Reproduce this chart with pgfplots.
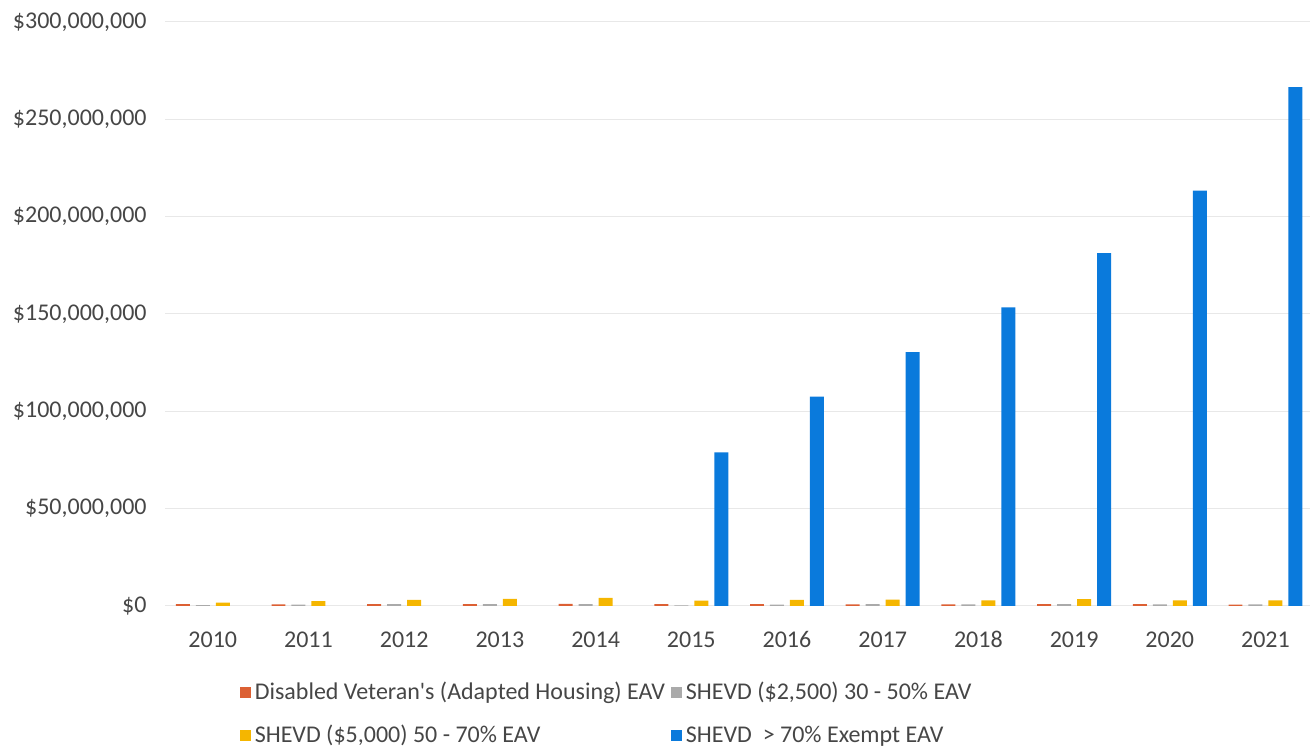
\documentclass[border=0pt]{standalone}
\usepackage{pgfplots}
\pgfplotsset{compat=1.18}
\usepackage{fontspec}
\setmainfont{Carlito}
\definecolor{cOrange}{RGB}{220,96,52}
\definecolor{cGray}{RGB}{170,170,170}
\definecolor{cYellow}{RGB}{245,182,0}
\definecolor{cBlue}{RGB}{10,122,220}
\definecolor{cText}{RGB}{70,70,70}
\definecolor{cGrid}{RGB}{232,232,232}
\begin{document}
\fontsize{12}{14}\selectfont
\begin{tikzpicture}
\begin{axis}[
  scale only axis,
  width=572.5pt, height=292pt,
  xmin=-0.5, xmax=11.46,
  ymin=0, ymax=300,
  ybar=3pt, bar width=7pt,
  axis line style={draw=none},
  axis x line*=bottom,
  tick style={draw=none},
  xtick={0,...,11},
  xticklabels={2010,2011,2012,2013,2014,2015,2016,2017,2018,2019,2020,2021},
  ytick={0,50,100,150,200,250,300},
  yticklabels={{\$0},{\$50,000,000},{\$100,000,000},{\$150,000,000},{\$200,000,000},{\$250,000,000},{\$300,000,000}},
  ymajorgrids, grid style={cGrid, line width=0.5pt},
  ticklabel style={font=\fontsize{12}{14}\selectfont, text=cText},
  yticklabel style={xshift=-5pt},
  xticklabel style={yshift=-4pt, text height=8.5pt, text depth=0pt},
  legend columns=2,
  legend style={draw=none, fill=none, at={(0.06,0)}, anchor=north west, yshift=-34pt,
    font=\fontsize{12}{14}\selectfont, text=cText, row sep=7pt,
    /tikz/every even column/.append style={column sep=1pt}},
  legend image code/.code={\fill[#1] (0pt,-2.6pt) rectangle (5.4pt,2.8pt);},
  legend cell align=left,
  clip=false,
]
\path[use as bounding box] (rel axis cs:0,0) ++(-82.5pt,-70pt) rectangle ([xshift=0pt,yshift=11pt]rel axis cs:1,1);
\addplot[draw=none, fill=cOrange] coordinates {(0,0.9)(1,0.7)(2,0.8)(3,0.8)(4,1.0)(5,0.9)(6,0.9)(7,0.7)(8,0.7)(9,0.9)(10,0.9)(11,0.6)};
\addlegendentry{Disabled Veteran\textquotesingle s (Adapted Housing) EAV}
\addplot[draw=none, fill=cGray] coordinates {(0,0.3)(1,0.6)(2,0.8)(3,0.8)(4,0.8)(5,0.2)(6,0.6)(7,0.8)(8,0.7)(9,0.8)(10,0.7)(11,0.7)};
\addlegendentry{SHEVD (\$2,500) 30 - 50\% EAV}
\addplot[draw=none, fill=cYellow] coordinates {(0,1.6)(1,2.4)(2,3.0)(3,3.5)(4,4.0)(5,2.6)(6,3.0)(7,3.2)(8,2.8)(9,3.4)(10,2.8)(11,2.8)};
\addlegendentry{SHEVD (\$5,000) 50 - 70\% EAV}
\addplot[draw=none, fill=cBlue] coordinates {(5,78.8)(6,107.5)(7,130.3)(8,153.3)(9,181.2)(10,213.3)(11,266.5)};
\addlegendentry{SHEVD \ > 70\% Exempt EAV}
\end{axis}
\end{tikzpicture}
\end{document}
